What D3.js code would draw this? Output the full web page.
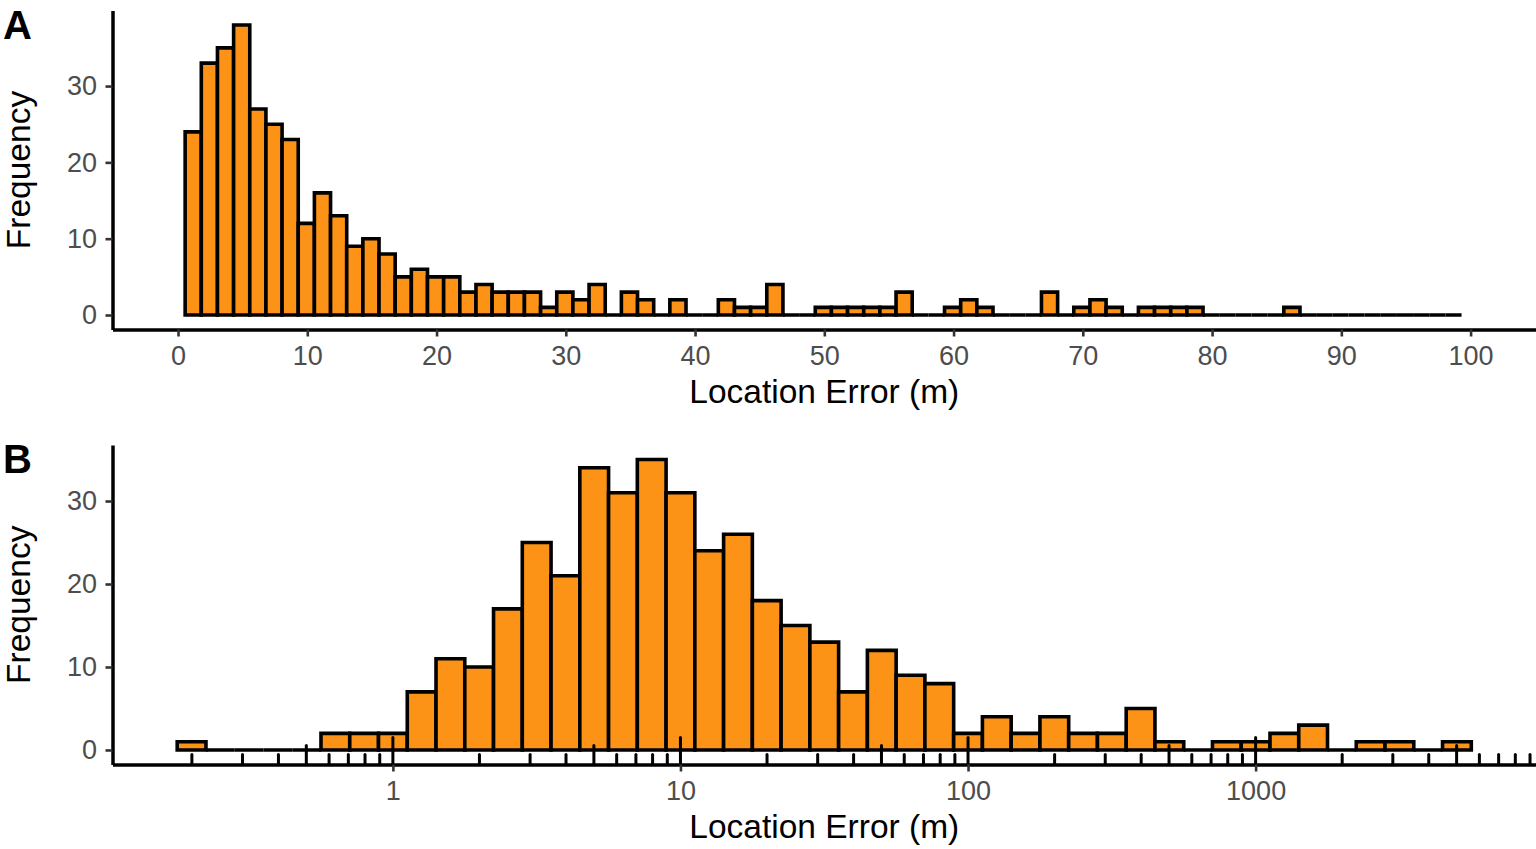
<!DOCTYPE html>
<meta charset="utf-8">
<style>
body { margin: 0; background: #fff; }
svg text { font-family: "Liberation Sans", Arial, sans-serif; }
.axis .domain { stroke: #000; stroke-width: 3.5px; }
.axis .tick line { stroke: #333; stroke-width: 2.6px; }
.axis .tick text { fill: #4d4d4d; font-size: 27px; }
.bar { fill: #fc9316; stroke: #000; stroke-width: 3.6px; stroke-linejoin: miter; }
.logtick { stroke: #000; stroke-width: 3px; stroke-linecap: round; }
.title { font-size: 33.5px; fill: #000; }
.tag { font-size: 40px; font-weight: bold; fill: #000; }
</style>
<body>
<svg width="1536" height="849"></svg>
<script src="https://cdn.jsdelivr.net/npm/d3@7"></script>
<script>
// panel A: linear histogram, 79 bins starting at 0.55 m, 1.25 m wide
var aStart = 0.55, aWidth = 1.25;
var aCounts = [24,33,35,38,27,25,23,12,16,13,9,10,8,5,6,5,5,3,4,3,3,3,
  1,3,2,4,0,3,2,0,2,0,0,2,1,1,4,0,0,1,1,1,1,1,3,0,0,1,2,1,
  0,0,0,3,0,1,2,1,0,1,1,1,1,0,0,0,0,0,1,0,0,0,0,0,0,0,0,0,0];
var aXTicks = [0,10,20,30,40,50,60,70,80,90,100];
var aYTicks = [0,10,20,30];

// panel B: log10 histogram, 45 bins of 0.1 decade from 10^-0.75
var bStartLog = -0.75, bWidthLog = 0.1;
var bCounts = [1,0,0,0,0,2,2,2,7,11,10,17,25,21,34,31,35,31,24,26,18,15,13,7,12,
  9,8,2,4,2,4,2,2,5,1,0,1,1,2,3,0,1,1,0,1];
var bXTicks = [1,10,100,1000];
var bYTicks = [0,10,20,30];

var svg = d3.select("svg");
var left = 112.5, right = 1536;

function barPath(x0, x1, y0, y1) {
  return "M" + x0 + "," + y0 + "V" + y1 + "H" + x1 + "V" + y0 + "Z";
}

function panel(o) {
  var g = svg.append("g");

  // bars
  g.append("g").selectAll("path")
    .data(o.counts)
    .enter().append("path")
      .attr("class", "bar")
      .attr("d", function(d, i) {
        return barPath(o.x(o.edge(i)), o.x(o.edge(i + 1)), o.y(0), o.y(d));
      });

  if (o.extra) o.extra(g);

  // axes
  g.append("g")
      .attr("class", "axis")
      .attr("transform", "translate(0," + o.bottom + ")")
      .call(d3.axisBottom(o.x).tickValues(o.xTicks).tickFormat(d3.format("d"))
        .tickSizeInner(7).tickSizeOuter(0).tickPadding(9.3));

  g.append("g")
      .attr("class", "axis")
      .attr("transform", "translate(" + left + ",0)")
      .call(d3.axisLeft(o.y).tickValues(o.yTicks)
        .tickSizeInner(7).tickSizeOuter(0).tickPadding(8.5));

  g.selectAll(".axis .domain").attr("stroke", "#000");

  g.append("text")
      .attr("class", "title")
      .attr("x", (left + right) / 2)
      .attr("y", o.bottom + 73.5)
      .attr("text-anchor", "middle")
      .text("Location Error (m)");

  g.append("text")
      .attr("class", "title")
      .attr("transform", "translate(29.5," + (o.top + o.bottom) / 2 + ") rotate(-90)")
      .attr("text-anchor", "middle")
      .text("Frequency");

  g.append("text")
      .attr("class", "tag")
      .attr("x", 3)
      .attr("y", o.top + 28)
      .text(o.tag);
}

// panel A
var aTop = 10.5, aBottom = 329.5;
panel({
  tag: "A",
  top: aTop, bottom: aBottom,
  counts: aCounts,
  edge: function(i) { return aStart + i * aWidth; },
  x: d3.scaleLinear().domain([-5.07, 105.06]).range([left, right]),
  y: d3.scaleLinear().domain([-1.9, 39.9]).range([aBottom, aTop]),
  xTicks: aXTicks, yTicks: aYTicks
});

// panel B
var bTop = 445, bBottom = 764.5;
var xB = d3.scaleLog().domain([Math.pow(10, -0.975), Math.pow(10, 3.975)]).range([left, right]);
panel({
  tag: "B",
  top: bTop, bottom: bBottom,
  counts: bCounts,
  edge: function(i) { return Math.pow(10, bStartLog + i * bWidthLog); },
  x: xB,
  y: d3.scaleLinear().domain([-1.75, 36.75]).range([bBottom, bTop]),
  xTicks: bXTicks, yTicks: bYTicks,
  extra: function(g) {
    // log ticks inside the panel: long at 10^k, mid at 5*10^k, short otherwise
    var logTicks = [];
    [0.1, 1, 10, 100, 1000].forEach(function(p) {
      for (var m = 1; m <= 9; m++) {
        var v = m * p;
        var lx = Math.log10(v);
        if (lx > -0.975 && lx < 3.975) logTicks.push({v: v, len: m === 1 ? 27 : m === 5 ? 19 : 10});
      }
    });
    g.append("g").selectAll("line")
      .data(logTicks)
      .enter().append("line")
        .attr("class", "logtick")
        .attr("x1", function(d) { return xB(d.v); })
        .attr("x2", function(d) { return xB(d.v); })
        .attr("y1", bBottom - 1)
        .attr("y2", function(d) { return bBottom - d.len; });
  }
});
</script>
</body>
